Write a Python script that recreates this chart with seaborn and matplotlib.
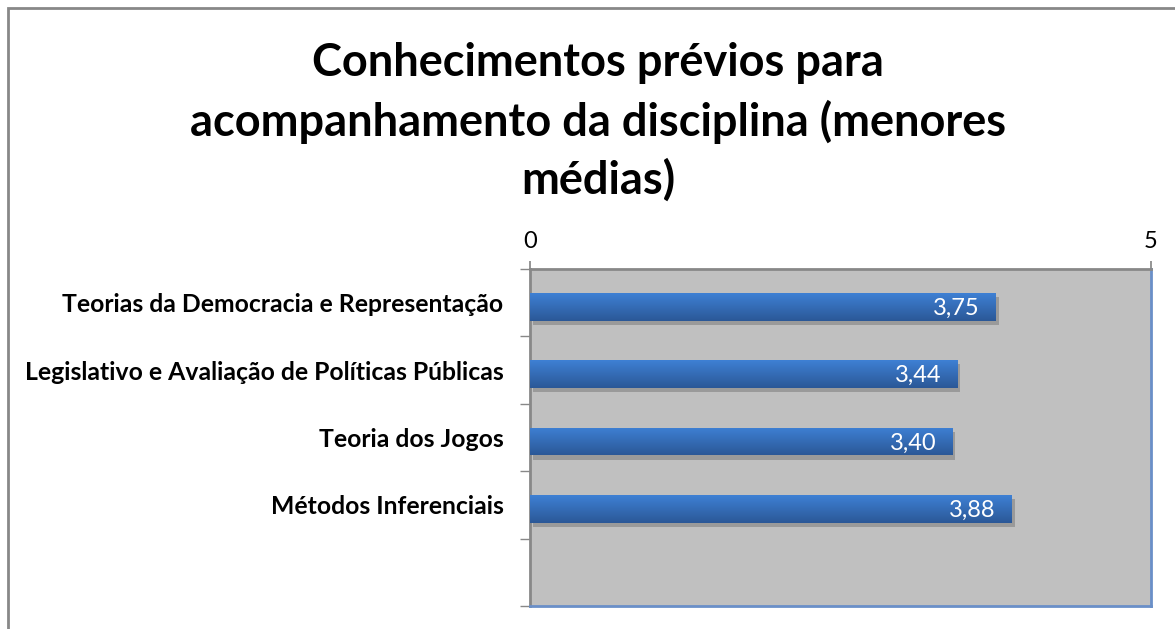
import numpy as np
import pandas as pd
import matplotlib
matplotlib.use("Agg")
import matplotlib.pyplot as plt
import seaborn as sns
from matplotlib.patches import Rectangle
import matplotlib.patheffects as pe

categories = ["Teorias da Democracia e Representação",
              "Legislativo e Avaliação de Políticas Públicas",
              "Teoria dos Jogos",
              "Métodos Inferenciais"]
values = [3.75, 3.44, 3.40, 3.88]
value_labels = ["3,75", "3,44", "3,40", "3,88"]
x_ticks = [0, 5]
title = "Conhecimentos prévios para\nacompanhamento da disciplina (menores\nmédias)"

sns.set_theme(style="white")
plt.rcParams['font.family'] = ['Lato', 'DejaVu Sans']

W, H = 1175, 629
fig = plt.figure(figsize=(W / 100, H / 100), dpi=100)
ax = fig.add_axes([530 / W, 1 - 606 / H, (1151 - 530) / W, (606 - 269) / H])

df = pd.DataFrame({"cat": categories, "val": values})
sns.barplot(data=df, x="val", y="cat", orient="h", order=categories,
            color="#3A6FB8", width=0.41, ax=ax, saturation=1, linewidth=0,
            edgecolor="none")

ax.set_facecolor("#C0C0C0")

# gradient fill + shadow for bars (bars sit slightly below slot centre, as in the original)
grad = np.linspace(0, 1, 100).reshape(-1, 1)
cmap = matplotlib.colors.LinearSegmentedColormap.from_list("g", ["#3E80D4", "#2B5897"])
for p in list(ax.patches):
    p.set_linewidth(0)
    p.set_y(p.get_y() + 0.06)
    x0, y0 = p.get_x(), p.get_y()
    w, h = p.get_width(), p.get_height()
    p.set_path_effects([pe.SimplePatchShadow(offset=(2, -3), shadow_rgbFace="#8a8a8a", alpha=0.7), pe.Normal()])
    im = ax.imshow(grad, cmap=cmap, extent=[x0, x0 + w, y0 + h, y0], aspect="auto", zorder=3)
    im.set_clip_path(p)
ax.set_xlim(0, 5)
ax.set_ylim(4.5, -0.5)

for i, (v, lab) in enumerate(zip(values, value_labels)):
    ax.text(v - 0.13, i + 0.08, lab, color="white", fontsize=17, ha="right", va="center", zorder=5)

ax.xaxis.tick_top()
ax.set_xticks(x_ticks)
ax.set_xticklabels([str(t) for t in x_ticks], fontsize=17)
ax.tick_params(axis="x", which="major", top=True, direction="out", length=6, color="#888888", pad=6, labelcolor="black")

ax.set_yticks(range(len(categories)))
ax.set_yticklabels(categories, fontsize=17.8, fontweight="bold")
ax.tick_params(axis="y", which="major", length=0, pad=19, labelcolor="black")
ax.set_yticks(np.arange(-0.5, 4.6, 1.0), minor=True)
ax.tick_params(axis="y", which="minor", left=True, direction="out", length=7, color="#888888")
ax.set_xlabel("")
ax.set_ylabel("")

for s in ["top", "left"]:
    ax.spines[s].set_color("#888888")
    ax.spines[s].set_linewidth(2)
for s in ["right", "bottom"]:
    ax.spines[s].set_color("#6A8FC8")
    ax.spines[s].set_linewidth(2)

fig.text(598 / W, 1 - 122 / H, title, ha="center", va="center", fontsize=32.5,
         fontweight="bold", linespacing=1.42, color="black")

fig.add_artist(Rectangle((8 / W, -0.1), 1.2, 1 - 8 / H + 0.1, transform=fig.transFigure,
                         fill=False, edgecolor="#888888", linewidth=2))

fig.savefig("out.png", dpi=100)
